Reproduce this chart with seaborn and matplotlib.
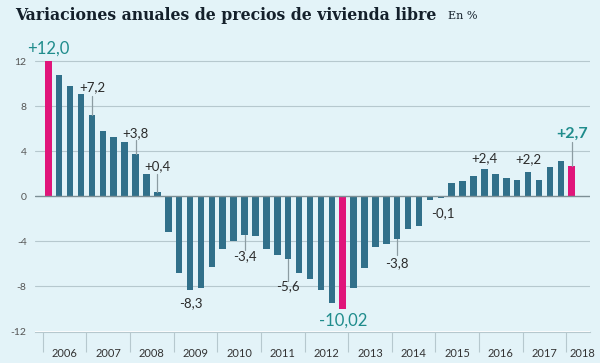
import numpy as np
import pandas as pd
import matplotlib
matplotlib.use("Agg")
from matplotlib import pyplot as plt
import seaborn as sns

# Datos: variacion anual (%) del precio de la vivienda libre, trimestral 2006T1-2018T1
anios = [str(a) for a in range(2006, 2019)]
trimestres = [f"{a}T{q}" for a in range(2006, 2018) for q in range(1, 5)] + ["2018T1"]
valores = [12.0, 10.8, 9.8, 9.1,
           7.2, 5.8, 5.3, 4.8,
           3.8, 2.0, 0.4, -3.2,
           -6.8, -8.3, -8.1, -6.3,
           -4.7, -4.0, -3.4, -3.5,
           -4.7, -5.2, -5.6, -6.8,
           -7.3, -8.3, -9.5, -10.02,
           -8.1, -6.4, -4.5, -4.2,
           -3.8, -2.9, -2.6, -0.3,
           -0.1, 1.2, 1.4, 1.8,
           2.4, 2.0, 1.6, 1.5,
           2.2, 1.5, 2.6, 3.1,
           2.7]
destacados = ["2006T1", "2012T4", "2018T1"]

# etiquetas: (trimestre, texto)
etiquetas = [("2006T1", "+12,0"), ("2007T1", "+7,2"), ("2008T1", "+3,8"),
             ("2008T3", "+0,4"), ("2009T2", "-8,3"), ("2010T3", "-3,4"),
             ("2011T3", "-5,6"), ("2012T4", "-10,02"), ("2014T1", "-3,8"),
             ("2015T1", "-0,1"), ("2016T1", "+2,4"), ("2017T1", "+2,2"),
             ("2018T1", "+2,7")]

FONDO = "#e3f3f8"
AZUL = "#31708a"
ROSA = "#e0157a"
TEAL = "#1f8c8c"
GRIS = "#b6c8ce"

sns.set_style("white")
plt.rcParams["font.family"] = ["Lato", "DejaVu Sans"]

df = pd.DataFrame({"trimestre": trimestres, "valor": valores})
colores = {t: (ROSA if t in destacados else AZUL) for t in trimestres}

fig = plt.figure(figsize=(6, 3.63), dpi=100, facecolor=FONDO)
ax = fig.add_axes([35 / 600, (363 - 331.5) / 363, 555 / 600, 291.5 / 363])
ax.set_facecolor(FONDO)

sns.barplot(data=df, x="trimestre", y="valor", hue="trimestre", palette=colores,
            legend=False, width=0.6, saturation=1, linewidth=0, ax=ax, zorder=3)

ax.set_ylim(-12, 13.89)
ax.set_xlim(-1.22, 49.68)

# rejilla horizontal
for v in [12, 8, 4, -4, -8]:
    ax.axhline(v, color=GRIS, lw=0.8, zorder=1)
ax.axhline(0, color="#7d8f96", lw=1.0, zorder=4)

for s in ["top", "right", "left"]:
    ax.spines[s].set_visible(False)
ax.spines["bottom"].set_color(GRIS)
ax.spines["bottom"].set_linewidth(0.8)

ax.set_yticks([12, 8, 4, 0, -4, -8, -12])
ax.set_yticklabels(["12", "8", "4", "0", "-4", "-8", "-12"])
ax.tick_params(axis="y", length=0, pad=6, labelsize=7.5, labelcolor="#555555")

# etiquetas de años centradas en cada grupo
centros = [4 * i + 1.5 for i in range(12)] + [49.0]
ax.set_xticks(centros)
ax.set_xticklabels(anios)
ax.set_xticks([k + 0.5 for k in range(-1, 48)], minor=True)
ax.tick_params(axis="x", which="major", length=0, pad=12, labelsize=8, labelcolor="#333333")
ax.tick_params(axis="x", which="minor", length=4.3, width=0.7, color=GRIS, direction="out")
ax.set_xlabel("")
ax.set_ylabel("")

# separadores de años
sec = ax.secondary_xaxis("bottom")
sec.set_xticks([4 * i - 0.5 for i in range(13)])
sec.set_xticklabels([])
sec.tick_params(length=14.4, width=0.8, color=GRIS)
sec.spines["bottom"].set_visible(False)

# anotaciones
pos_texto = {"+12,0": 13.1, "+7,2": 9.7, "+3,8": 5.6, "+0,4": 2.7, "-8,3": -9.5,
             "-3,4": -5.35, "-5,6": -8.0, "-10,02": -11.05, "-3,8": -5.9,
             "-0,1": -1.5, "+2,4": 3.4, "+2,2": 3.3, "+2,7": 5.6}
guias = {"+7,2": 8.9, "+3,8": 5.0, "+0,4": 2.0, "-3,4": -4.8, "-5,6": -7.5,
         "-3,8": -5.2, "+2,7": 4.8}
for trim, txt in etiquetas:
    i = trimestres.index(trim)
    v = valores[i]
    x = i
    if txt == "-0,1":
        x = i + 0.15
    if txt == "-8,3":
        x = i + 0.1
    estilo = dict(ha="center", va="center", fontsize=9.5, color="#2b2b2b")
    if txt in ("+12,0", "-10,02"):
        estilo.update(fontsize=12, color=TEAL)
    if txt == "+2,7":
        estilo.update(fontsize=11.5, color=TEAL, fontweight="bold")
    ax.text(x, pos_texto[txt], txt, zorder=6, clip_on=False, **estilo)
    if txt in guias:
        ax.plot([i, i], [v, guias[txt]], color="#8c9ca2", lw=0.9, zorder=5)

fig.text(15 / 600, 1 - 15 / 363, "Variaciones anuales de precios de vivienda libre",
         fontsize=11.3, fontweight="bold", family=["DejaVu Serif"], color="#14202b",
         ha="left", va="center")
fig.text(448 / 600, 1 - 16 / 363, "En %", fontsize=8, family=["DejaVu Serif"],
         color="#14202b", ha="left", va="center")

plt.savefig("out.png", dpi=100, facecolor=FONDO)
